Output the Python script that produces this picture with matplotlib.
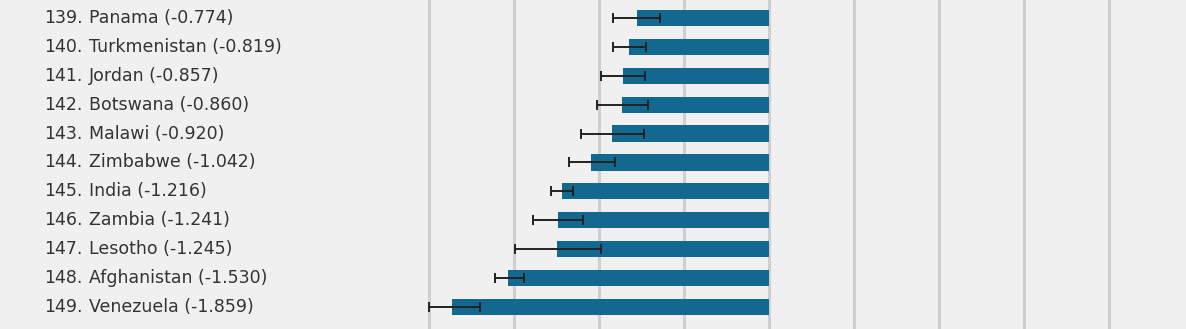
import numpy as np
import matplotlib.pyplot as plt

ranks = [139, 140, 141, 142, 143, 144, 145, 146, 147, 148, 149]
countries = ["Panama", "Turkmenistan", "Jordan", "Botswana", "Malawi",
             "Zimbabwe", "India", "Zambia", "Lesotho", "Afghanistan",
             "Venezuela"]
scores = [-0.774, -0.819, -0.857, -0.860, -0.920, -1.042, -1.216,
          -1.241, -1.245, -1.530, -1.859]
ci_low = [-0.913, -0.916, -0.983, -1.011, -1.103, -1.174, -1.279,
          -1.385, -1.491, -1.611, -2.000]
ci_high = [-0.638, -0.720, -0.726, -0.707, -0.732, -0.903, -1.150,
           -1.091, -0.985, -1.440, -1.697]
grid_ticks = [-2.0, -1.5, -1.0, -0.5, 0.0, 0.5, 1.0, 1.5, 2.0]

bg = "#f0f0f0"
bar_color = "#12688f"
text_color = "#333333"

fig = plt.figure(figsize=(11.86, 3.29), dpi=100, facecolor=bg)
ax = fig.add_axes([0, 0, 1, 1], facecolor=bg)

y = np.arange(len(countries))
scores = np.array(scores)
err = np.array([scores - np.array(ci_low), np.array(ci_high) - scores])

ax.barh(y, scores, height=0.56, color=bar_color, zorder=2)
ax.errorbar(scores, y, xerr=err, fmt="none", ecolor="#222222",
            elinewidth=1.4, capsize=3.5, capthick=1.4, zorder=3)

for r, c, s, yy in zip(ranks, countries, scores, y):
    ax.text(44 / 1186, yy, f"{r}.", transform=ax.get_yaxis_transform(),
            ha="left", va="center", fontsize=12.5, color=text_color,
            family="DejaVu Sans")
    ax.text(89 / 1186, yy, f"{c} ({s:.3f})",
            transform=ax.get_yaxis_transform(),
            ha="left", va="center", fontsize=12.5, color=text_color,
            family="DejaVu Sans")

for t in grid_ticks:
    ax.axvline(t, color="#cfcfcf", linewidth=2.2, zorder=1)

ax.set_xlim(-768.5 / 170, (1186 - 768.5) / 170)
ax.set_ylim(len(countries) - 1 + 0.76, -0.62)
ax.set_xticks([])
ax.set_yticks([])
for sp in ax.spines.values():
    sp.set_visible(False)

fig.savefig("out.png", dpi=100, facecolor=bg)
